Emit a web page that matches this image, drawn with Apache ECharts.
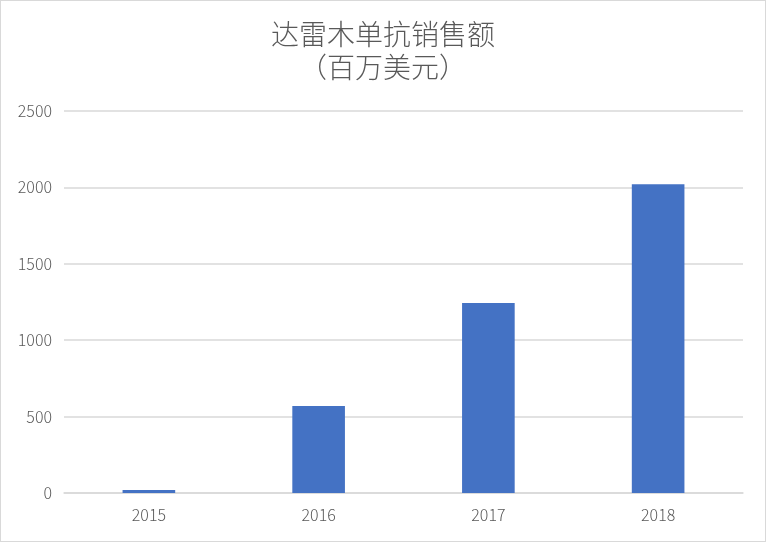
<!DOCTYPE html>
<html><head><meta charset="utf-8">
<script src="https://cdn.jsdelivr.net/npm/echarts@6/dist/echarts.min.js"></script>
<style>html,body{margin:0;padding:0;background:#fff}#c{width:766px;height:542px;box-sizing:border-box;border:1px solid #d9d9d9}</style>
</head><body><div id="c"></div>
<script>
const categories = ['2015', '2016', '2017', '2018'];
const sales = [20, 569, 1243, 2020];
const yTicks = [0, 500, 1000, 1500, 2000, 2500];
const titleText = '达雷木单抗销售额\n（百万美元）';

const chart = echarts.init(document.getElementById('c'));
const font = '"Noto Sans CJK SC", sans-serif';
chart.setOption({
  animation: false,
  title: {
    text: titleText, left: 'center', top: 12,
    textStyle: { fontFamily: font, fontSize: 28, fontWeight: 300, color: '#595959', lineHeight: 33 }
  },
  grid: { left: 63, right: 22, top: 110, bottom: 48, containLabel: false },
  xAxis: {
    type: 'category', data: categories,
    axisLine: { lineStyle: { color: '#d9d9d9', width: 1.5 } },
    axisTick: { show: false },
    axisLabel: { color: '#595959', fontFamily: font, fontWeight: 300, fontSize: 16, margin: 14 }
  },
  yAxis: {
    type: 'value', min: yTicks[0], max: yTicks[yTicks.length - 1], interval: 500,
    axisLine: { show: false }, axisTick: { show: false },
    splitLine: { lineStyle: { color: '#d9d9d9', width: 1.5 } },
    axisLabel: { color: '#595959', fontFamily: font, fontWeight: 300, fontSize: 16, margin: 12,
      formatter: v => String(v) }
  },
  series: [{
    type: 'bar', data: sales, barWidth: '31%',
    itemStyle: { color: '#4472c4' }
  }]
});
</script></body></html>
